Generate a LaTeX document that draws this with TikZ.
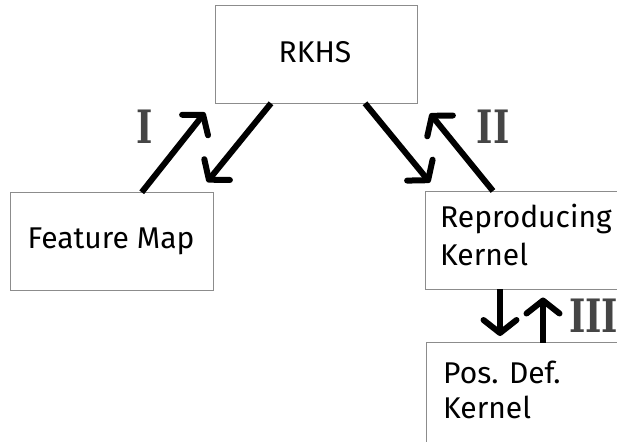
\documentclass[tikz,border=0pt]{standalone}
\usepackage{fontspec}
\setmainfont{Fira Sans}
\newfontfamily\romfont[FakeStretch=0.76]{DejaVu Serif}
\usetikzlibrary{arrows.meta}
\begin{document}
\begin{tikzpicture}[x=1pt,y=-1pt,
  box/.style={draw=black!45, line width=0.8pt, rectangle, inner sep=0pt},
  lbl/.style={font=\fontsize{30}{38}\selectfont, inner sep=0pt},
  arr/.style={line width=6pt, -{Straight Barb[round,length=13pt,width=33pt]}},
  roman/.style={font=\romfont\bfseries\fontsize{46}{46}\selectfont, text=black!73, inner sep=0pt}
]
\useasboundingbox (0,0) rectangle (617,441);
\clip (0,0) rectangle (617,441);
% boxes
\node[box, minimum width=202pt, minimum height=98pt] (rkhs) at (316,54.3) {};
\node[box, minimum width=202.4pt, minimum height=98.4pt] (fm) at (111.8,241.5) {};
\node[box, minimum width=255pt, minimum height=98pt] (rk) at (552.5,240) {};
\node[box, minimum width=254pt, minimum height=137pt] (pd) at (553,411.2) {};
% texts
\node[lbl, anchor=base] (trkhs) at (315,62.7) {RKHS};
\node[lbl, anchor=base] (tfm) at (111,248.3) {Feature Map};
\node[lbl, anchor=base west] (trk1) at (440,227) {Reproducing};
\node[lbl, anchor=base west] (trk2) at (440,265.7) {Kernel};
\node[lbl, anchor=base west] (tpd1) at (443,383) {Pos. Def.};
\node[lbl, anchor=base west] (tpd2) at (443,418) {Kernel};
% arrow end points
\coordinate (a1s) at (141.7,192.3);
\coordinate (a1e) at (205,112.5);
\coordinate (a2s) at (271,103.3);
\coordinate (a2e) at (207,182);
\coordinate (a3s) at (365,103.3);
\coordinate (a3e) at (430,182.5);
\coordinate (a4s) at (493,191);
\coordinate (a4e) at (430,113.5);
\coordinate (a5s) at (500,289);
\coordinate (a5e) at (500,336);
\coordinate (a6s) at (543,342.7);
\coordinate (a6e) at (543,297.5);
\draw[arr] (a1s) -- (a1e);
\draw[arr] (a2s) -- (a2e);
\draw[arr] (a3s) -- (a3e);
\draw[arr] (a4s) -- (a4e);
\draw[arr] (a5s) -- (a5e);
\draw[arr] (a6s) -- (a6e);
% roman numerals
\node[roman] (n1) at (144.5,127) {I};
\node[roman] (n2) at (493.3,127) {II};
\node[roman, anchor=west] (n3) at (569,316) {III};
\end{tikzpicture}
\end{document}
